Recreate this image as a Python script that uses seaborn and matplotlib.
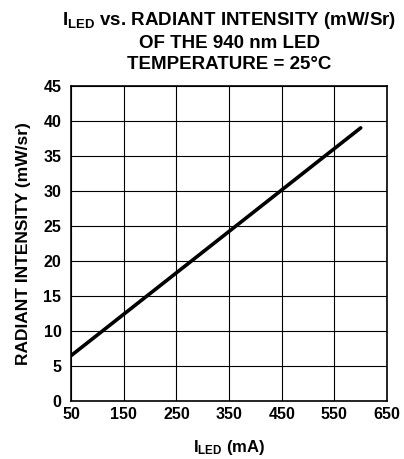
import matplotlib
matplotlib.use("Agg")
import matplotlib.pyplot as plt
import pandas as pd
import seaborn as sns

# values
current_ma = [50, 600]
intensity = [6.5, 39.0]
x_ticks = [50, 150, 250, 350, 450, 550, 650]
y_ticks = [0, 5, 10, 15, 20, 25, 30, 35, 40, 45]


def main():
    sns.set_theme(style="white")
    plt.rcParams["font.family"] = ["Liberation Sans", "DejaVu Sans"]
    plt.rcParams["font.weight"] = "bold"
    plt.rcParams["axes.labelweight"] = "bold"
    plt.rcParams["axes.titleweight"] = "bold"
    plt.rcParams["mathtext.fontset"] = "custom"
    plt.rcParams["mathtext.rm"] = "Liberation Sans:bold"
    plt.rcParams["mathtext.it"] = "Liberation Sans:bold"
    plt.rcParams["mathtext.bf"] = "Liberation Sans:bold"

    df = pd.DataFrame({"I_LED": current_ma, "Intensity": intensity})

    fig = plt.figure(figsize=(4.04, 4.59), dpi=100)
    ax = fig.add_axes([0.176, 0.126, 0.782, 0.687])

    sns.lineplot(data=df, x="I_LED", y="Intensity", color="black", linewidth=2.6, ax=ax)

    ax.set_xlim(50, 650)
    ax.set_ylim(0, 45)
    ax.set_xticks(x_ticks)
    ax.set_yticks(y_ticks)
    ax.grid(True, color="black", linewidth=0.8)
    for s in ax.spines.values():
        s.set_color("black")
        s.set_linewidth(1.2)
    ax.tick_params(axis="x", length=0, labelsize=11.5, pad=4, colors="black")
    ax.tick_params(axis="y", length=0, labelsize=11.5, pad=7, colors="black")
    for lbl in ax.get_xticklabels() + ax.get_yticklabels():
        lbl.set_fontweight("bold")

    ax.set_xlabel(r"I$_{\mathrm{LED}}$ (mA)", fontsize=12, fontweight="bold",
                  labelpad=12, color="black")
    ax.set_ylabel("RADIANT INTENSITY (mW/sr)", fontsize=12.5, fontweight="bold",
                  labelpad=9, color="black")

    ax.set_title(
        r"I$_{\mathrm{LED}}$ vs. RADIANT INTENSITY (mW/Sr)" "\nOF THE 940 nm LED\nTEMPERATURE = 25°C",
        fontsize=13.5, fontweight="bold", color="black", pad=12, linespacing=1.3,
    )

    fig.savefig("out.png", dpi=100)


if __name__ == "__main__":
    main()
